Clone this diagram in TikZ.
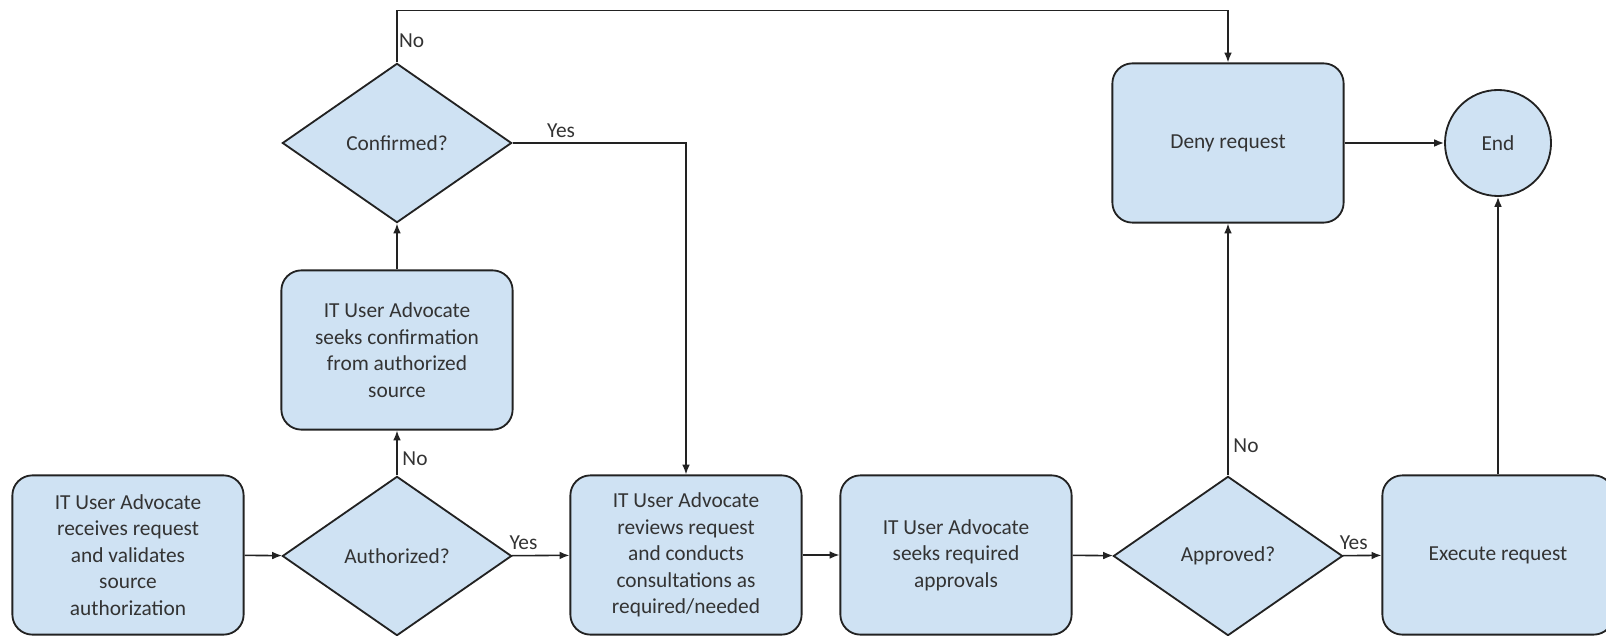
\documentclass[tikz,border=0pt]{standalone}
\usepackage{fontspec}
\setmainfont{Carlito}
\usepackage{xcolor}
\usetikzlibrary{shapes.geometric,arrows.meta,positioning,calc}
\definecolor{boxblue}{HTML}{CFE2F3}
\definecolor{inkgray}{HTML}{333333}
\definecolor{linegray}{HTML}{222222}

\begin{document}
\begin{tikzpicture}[x=0.025cm, y=-0.025cm, >={Latex[length=7pt,width=5.5pt]}, line width=1.1pt, draw=linegray,
  every node/.style={text=inkgray, font=\fontsize{15.2}{18.9}\selectfont},
  proc/.style={draw=linegray, line width=1.3pt, fill=boxblue, rounded corners=0.5cm, align=center, minimum width=5.78cm, minimum height=3.98cm},
  decide/.style={draw=linegray, line width=1.3pt, fill=boxblue, diamond, align=center, minimum width=5.73cm, minimum height=3.98cm, inner sep=0pt},
  term/.style={draw=linegray, line width=1.3pt, fill=boxblue, circle, minimum size=2.65cm}]
\useasboundingbox (0,0) rectangle (1606,636);

% bottom row
\node[proc] (rcv) at (128,555) {IT User Advocate\\receives request\\and validates\\source\\authorization};
\node[decide] (auth) at (397,556) {Authorized?};
\node[proc] (review) at (686,555) {IT User Advocate\\reviews request\\and conducts\\consultations as\\required/needed};
\node[proc] (approvals) at (956,555) {IT User Advocate\\seeks required\\approvals};
\node[decide] (appr) at (1228,556) {Approved?};
\node[proc] (exec) at (1498,555) {Execute request};

% upper part
\node[proc] (seek) at (397,350) {IT User Advocate\\seeks confirmation\\from authorized\\source};
\node[decide] (conf) at (397,143) {Confirmed?};
\node[proc] (deny) at (1228,143) {Deny request};
\node[term] (done) at (1498,143) {End};

\draw[->] (rcv) -- (auth);
\draw[->] (auth) -- node[above, pos=0.2] {Yes} (review);
\draw[->] (auth) -- node[right, pos=0.37] {No} (seek);
\draw[->] (seek) -- (conf);
\draw[->] (conf.east) -| node[above, pos=0.14] {Yes} (review.north);
\draw[->] (conf.north) -- node[right, pos=0.42, inner sep=1pt] {No} ++(0,-52) -| (deny.north);
\draw[->] (review) -- (approvals);
\draw[->] (approvals) -- (appr);
\draw[->] (appr) -- node[above, pos=0.28] {Yes} (exec);
\draw[->] (appr) -- node[right, pos=0.12] {No} (deny);
\draw[->] (deny) -- (done);
\draw[->] (exec) -- (done);
\end{tikzpicture}
\end{document}
